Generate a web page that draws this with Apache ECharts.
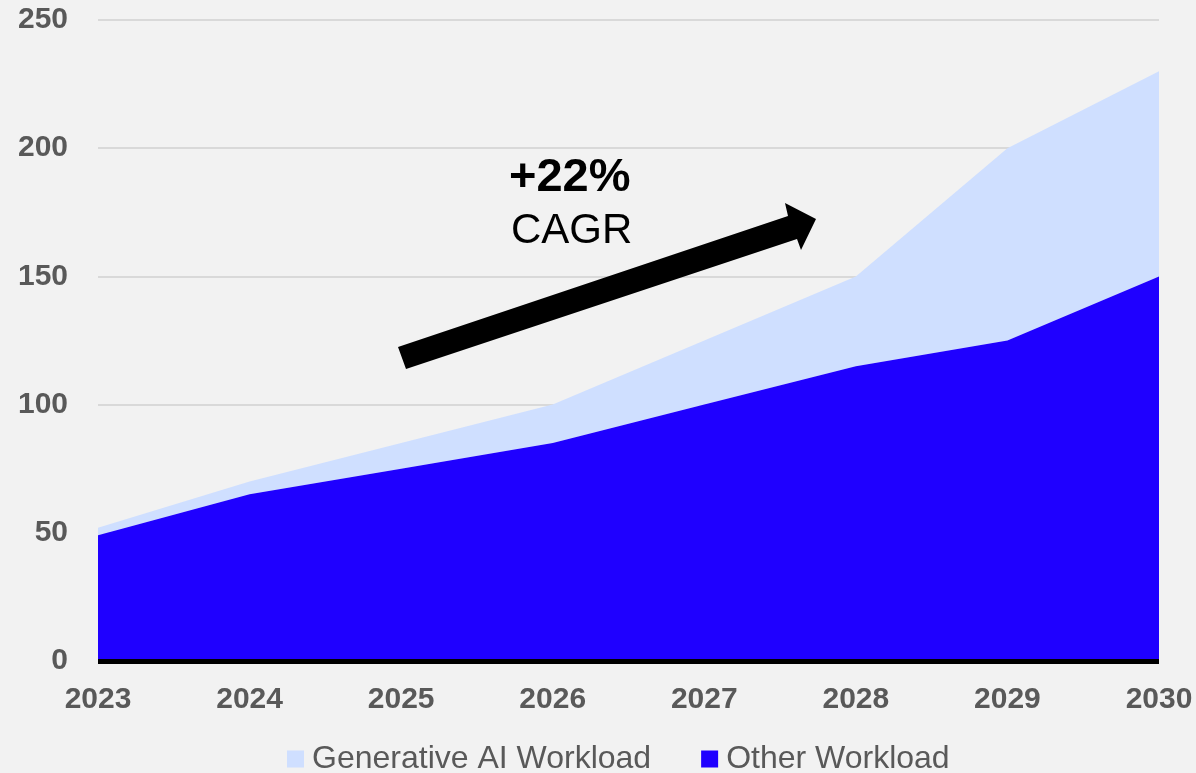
<!DOCTYPE html>
<html>
<head>
<meta charset="utf-8">
<script src="https://cdn.jsdelivr.net/npm/echarts@6/dist/echarts.min.js"></script>
<style>
  html, body { margin: 0; padding: 0; background: #f2f2f2; }
  #chart { width: 1196px; height: 773px; }
</style>
</head>
<body>
<div id="chart"></div>
<script>
// stacked area: other workload at the bottom, generative AI on top
const years = ['2023', '2024', '2025', '2026', '2027', '2028', '2029', '2030']
const otherWorkload = [49, 65, 75, 85, 100, 115, 125, 150]
const genAIWorkload = [3, 5, 10, 15, 25, 35, 75, 80]
const yTicks = { min: 0, max: 250, interval: 50 }

const gray = '#595959'
const font = '"Liberation Sans", Arial, sans-serif'

const chart = echarts.init(document.getElementById('chart'), null, { renderer: 'canvas' })

chart.setOption({
  backgroundColor: '#f2f2f2',
  animation: false,
  grid: { left: 98, right: 37, top: 20, bottom: 112 },
  legend: {
    bottom: -7,
    left: 282,
    itemWidth: 17,
    itemHeight: 17,
    itemGap: 50,
    icon: 'rect',
    data: ['Generative AI Workload', 'Other Workload'],
    textStyle: { color: gray, fontFamily: font, fontSize: 32, padding: [0, 0, 0, 3] },
  },
  xAxis: {
    type: 'category',
    data: years,
    boundaryGap: false,
    z: 10,
    axisLine: { show: true, lineStyle: { color: '#000', width: 5, cap: 'butt' } },
    axisTick: { show: false },
    axisLabel: { color: gray, fontFamily: font, fontSize: 30, fontWeight: 'bold', margin: 24 },
  },
  yAxis: {
    type: 'value',
    min: yTicks.min, max: yTicks.max, interval: yTicks.interval,
    axisLine: { show: false },
    axisTick: { show: false },
    splitLine: { lineStyle: { color: '#d9d9d9', width: 2 } },
    axisLabel: { color: gray, fontFamily: font, fontSize: 30, fontWeight: 'bold', margin: 30 },
  },
  series: [
    {
      name: 'Other Workload', type: 'line', stack: 'total', data: otherWorkload,
      symbol: 'none', lineStyle: { width: 0 },
      itemStyle: { color: '#1f00ff' },
      areaStyle: { color: '#1f00ff', opacity: 1 },
      z: 3,
    },
    {
      name: 'Generative AI Workload', type: 'line', stack: 'total', data: genAIWorkload,
      symbol: 'none', lineStyle: { width: 0 },
      itemStyle: { color: '#cfdfff' },
      areaStyle: { color: '#cfdfff', opacity: 1 },
      z: 2,
    },
  ],
  graphic: [
    // CAGR arrow
    {
      type: 'polygon', z: 100,
      shape: { points: [[398, 347], [788, 216], [785, 203], [816, 219], [801, 250], [797, 239], [406, 369]] },
      style: { fill: '#000' },
    },
    {
      type: 'text', z: 100, left: 509, top: 155,
      style: { text: '+22%', fill: '#000', font: 'bold 47px "Liberation Sans", Arial, sans-serif' },
    },
    {
      type: 'text', z: 100, left: 511, top: 210,
      style: { text: 'CAGR', fill: '#000', font: '42px "Liberation Sans", Arial, sans-serif' },
    },
  ],
})
</script>
</body>
</html>
